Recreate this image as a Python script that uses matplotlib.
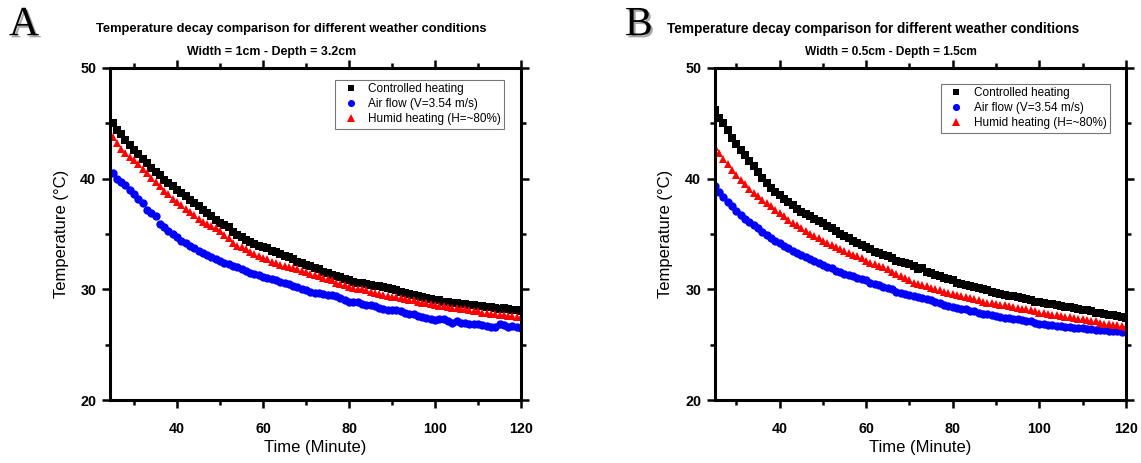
import numpy as np
import matplotlib
matplotlib.use("Agg")
import matplotlib.pyplot as plt
import matplotlib.patheffects as pe
from matplotlib.ticker import MultipleLocator

plt.rcParams['font.family'] = ['Liberation Sans', 'DejaVu Sans']

time_min = list(range(25, 121))

# Panel A (Width = 1cm - Depth = 3.2cm)
a_controlled = [45.0, 44.4, 44.0, 43.5, 43.0, 42.6,
                42.2, 41.8, 41.4, 41.0, 40.6, 40.3, 39.9, 39.6, 39.3, 39.0,
                38.7, 38.4, 38.1, 37.8, 37.5, 37.2, 36.9, 36.6, 36.3, 36.0,
                35.8, 35.6, 35.2, 34.9, 34.7, 34.5, 34.3, 34.1, 33.9, 33.8,
                33.7, 33.5, 33.4, 33.2, 33.0, 32.9, 32.7, 32.5, 32.4, 32.2,
                32.1, 31.9, 31.8, 31.6, 31.5, 31.3, 31.2, 31.1, 30.9, 30.8,
                30.7, 30.6, 30.6, 30.5, 30.4, 30.3, 30.3, 30.2, 30.1, 30.0,
                29.9, 29.8, 29.7, 29.6, 29.5, 29.4, 29.3, 29.2, 29.1, 29.0,
                29.0, 28.9, 28.9, 28.8, 28.8, 28.7, 28.7, 28.6, 28.6, 28.5,
                28.5, 28.4, 28.4, 28.3, 28.2, 28.3, 28.2, 28.1, 28.1, 28.0]
a_airflow = [40.5, 40.0, 39.7, 39.4, 39.0, 38.6,
             38.2, 37.8, 37.2, 36.9, 36.6, 35.9, 35.6, 35.3, 35.0, 34.7,
             34.4, 34.2, 33.9, 33.7, 33.5, 33.3, 33.1, 32.9, 32.7, 32.6,
             32.4, 32.3, 32.1, 32.0, 31.8, 31.7, 31.5, 31.4, 31.3, 31.1,
             31.0, 30.9, 30.8, 30.7, 30.6, 30.5, 30.3, 30.2, 30.0, 29.9,
             29.8, 29.7, 29.7, 29.6, 29.5, 29.5, 29.4, 29.2, 29.0, 28.9,
             28.9, 28.9, 28.7, 28.6, 28.6, 28.5, 28.3, 28.2, 28.1, 28.1,
             28.1, 28.0, 27.9, 27.8, 27.8, 27.6, 27.5, 27.4, 27.3, 27.2,
             27.3, 27.3, 27.1, 27.0, 27.1, 27.0, 27.0, 26.9, 26.9, 26.9,
             26.8, 26.7, 26.6, 26.6, 26.9, 26.8, 26.6, 26.7, 26.6, 26.5]
a_humid = [43.8, 43.2, 42.7, 42.3, 42.0, 41.7,
           41.3, 40.9, 40.5, 40.1, 39.7, 39.3, 38.9, 38.6, 38.2, 37.9,
           37.6, 37.3, 37.0, 36.7, 36.4, 36.1, 35.9, 35.7, 35.5, 35.3,
           34.9, 34.6, 34.2, 33.9, 33.8, 33.6, 33.4, 33.2, 33.0, 32.8,
           32.7, 32.5, 32.4, 32.2, 32.1, 32.0, 31.9, 31.8, 31.7, 31.6,
           31.4, 31.3, 31.2, 31.0, 30.9, 30.8, 30.6, 30.5, 30.4, 30.2,
           30.1, 30.0, 30.0, 29.9, 29.8, 29.7, 29.6, 29.5, 29.4, 29.3,
           29.3, 29.2, 29.1, 29.0, 29.0, 28.9, 28.8, 28.8, 28.7, 28.6,
           28.5, 28.5, 28.4, 28.3, 28.3, 28.2, 28.2, 28.1, 28.0, 28.0,
           27.9, 27.9, 27.8, 27.8, 27.7, 27.7, 27.6, 27.6, 27.5, 27.5]

# Panel B (Width = 0.5cm - Depth = 1.5cm)
b_controlled = [46.2, 45.5, 45.0, 44.4, 43.7, 43.1,
                42.6, 42.1, 41.6, 41.1, 40.6, 40.1, 39.6, 39.2, 38.8, 38.5,
                38.2, 37.9, 37.6, 37.3, 37.0, 36.8, 36.6, 36.4, 36.2, 36.0,
                35.7, 35.5, 35.3, 35.0, 34.8, 34.6, 34.4, 34.2, 34.0, 33.8,
                33.6, 33.4, 33.3, 33.1, 33.0, 32.8, 32.6, 32.5, 32.4, 32.3,
                32.1, 31.8, 31.9, 31.6, 31.5, 31.3, 31.2, 31.0, 30.9, 30.8,
                30.6, 30.5, 30.4, 30.3, 30.2, 30.1, 30.0, 29.9, 29.8, 29.7,
                29.6, 29.5, 29.4, 29.4, 29.3, 29.2, 29.1, 29.0, 28.9, 28.9,
                28.8, 28.7, 28.7, 28.6, 28.5, 28.4, 28.4, 28.3, 28.2, 28.1,
                28.1, 28.0, 27.9, 27.9, 27.8, 27.7, 27.7, 27.6, 27.5, 27.4]
b_airflow = [39.3, 38.8, 38.3, 37.9, 37.5, 37.1,
             36.7, 36.4, 36.1, 35.8, 35.5, 35.2, 34.9, 34.6, 34.4, 34.2,
             33.9, 33.7, 33.5, 33.3, 33.1, 32.9, 32.7, 32.6, 32.4, 32.2,
             32.0, 31.9, 31.7, 31.6, 31.4, 31.3, 31.2, 31.0, 30.9, 30.8,
             30.6, 30.5, 30.4, 30.2, 30.1, 30.0, 29.8, 29.7, 29.6, 29.5,
             29.4, 29.3, 29.2, 29.1, 29.0, 28.9, 28.8, 28.6, 28.5, 28.4,
             28.3, 28.2, 28.2, 28.0, 28.0, 27.9, 27.8, 27.8, 27.7, 27.6,
             27.5, 27.4, 27.4, 27.3, 27.3, 27.2, 27.1, 27.1, 27.0, 26.9,
             26.9, 26.8, 26.8, 26.7, 26.7, 26.6, 26.6, 26.5, 26.5, 26.5,
             26.4, 26.4, 26.3, 26.3, 26.3, 26.2, 26.2, 26.2, 26.1, 26.1]
b_humid = [42.9, 42.3, 41.8, 41.3, 40.8, 40.3,
           39.9, 39.5, 39.1, 38.7, 38.4, 38.1, 37.8, 37.5, 37.2, 36.9,
           36.6, 36.3, 36.0, 35.8, 35.5, 35.3, 35.0, 34.8, 34.6, 34.4,
           34.2, 34.0, 33.8, 33.6, 33.5, 33.3, 33.1, 33.0, 32.8, 32.6,
           32.4, 32.3, 32.1, 32.0, 31.8, 31.6, 31.4, 31.2, 31.0, 30.8,
           30.6, 30.5, 30.4, 30.3, 30.1, 30.0, 29.9, 29.8, 29.7, 29.6,
           29.5, 29.4, 29.3, 29.2, 29.1, 29.0, 28.9, 28.8, 28.8, 28.7,
           28.6, 28.6, 28.5, 28.4, 28.3, 28.2, 28.2, 28.1, 28.0, 27.9,
           27.9, 27.8, 27.7, 27.7, 27.6, 27.5, 27.5, 27.4, 27.3, 27.3,
           27.2, 27.1, 27.1, 27.0, 26.9, 26.9, 26.8, 26.8, 26.7, 26.6]

series_labels = ["Controlled heating", "Air flow (V=3.54 m/s)", "Humid heating (H=~80%)"]
main_title = "Temperature decay comparison for different weather conditions"
subtitles = ["Width = 1cm - Depth = 3.2cm", "Width = 0.5cm - Depth = 1.5cm"]
panel_letters = ["A", "B"]
x_label = "Time (Minute)"
y_label = "Temperature (°C)"
xlims = [(24.4, 120), (25.1, 120)]

W, H = 1141, 463
fig = plt.figure(figsize=(W / 100, H / 100), dpi=100)

panels = [
    dict(left=110, data=(a_controlled, a_airflow, a_humid), legend_anchor=(0.959, 0.965),
         title_x=291, sub_x=272, letter_x=9, ylabel_x=69, title_fs=9.3, sub_fs=8.9),
    dict(left=715, data=(b_controlled, b_airflow, b_humid), legend_anchor=(0.961, 0.953),
         title_x=873, sub_x=891, letter_x=625, ylabel_x=673, title_fs=9.8, sub_fs=8.6),
]

ax_w = 411
ax_top, ax_bot = 68, 400

for i, p in enumerate(panels):
    ax = fig.add_axes([p['left'] / W, 1 - ax_bot / H, ax_w / W, (ax_bot - ax_top) / H])
    ctrl, air, hum = p['data']
    ax.plot(time_min, ctrl, linestyle='none', marker='s', ms=5.4, color='black',
            mec='black', mew=0, label=series_labels[0])
    ax.plot(time_min, air, linestyle='none', marker='o', ms=6.0, color='#0000ff',
            mec='#0000ff', mew=0, label=series_labels[1])
    ax.plot(time_min, hum, linestyle='none', marker='^', ms=6.4, color='#ff0000',
            mec='#ff0000', mew=0, label=series_labels[2])

    ax.set_xlim(*xlims[i])
    ax.set_ylim(20, 50)
    ax.xaxis.set_major_locator(MultipleLocator(20))
    ax.xaxis.set_minor_locator(MultipleLocator(10))
    ax.yaxis.set_major_locator(MultipleLocator(10))
    ax.yaxis.set_minor_locator(MultipleLocator(5))
    for s in ax.spines.values():
        s.set_linewidth(2.2)
    ax.tick_params(which='both', direction='out', top=True, right=True,
                   width=1.8, labelsize=10.3)
    ax.tick_params(which='major', length=6)
    ax.tick_params(which='minor', length=3.5)
    for lab in ax.get_xticklabels() + ax.get_yticklabels():
        lab.set_fontweight('bold')
    ax.tick_params(axis='x', pad=10)
    ax.tick_params(axis='y', pad=4)

    ax.set_xlabel(x_label, fontsize=12, labelpad=3)
    ax.set_ylabel(y_label, fontsize=12)
    ax.yaxis.set_label_coords((p['ylabel_x'] - p['left']) / ax_w, 0.5)

    leg = ax.legend(loc='upper right', bbox_to_anchor=p['legend_anchor'], fontsize=8.5,
                    frameon=True, fancybox=False, edgecolor='#555555',
                    handlelength=2.0, handletextpad=0.45, labelspacing=0.25,
                    borderpad=0.3, borderaxespad=0, markerscale=0.85)
    leg.get_frame().set_linewidth(0.8)

    fig.text(p['title_x'] / W, 1 - 29 / H, main_title, ha='center', va='center',
             fontsize=p['title_fs'], fontweight='bold')
    fig.text(p['sub_x'] / W, 1 - 52 / H, subtitles[i], ha='center', va='center',
             fontsize=p['sub_fs'], fontweight='bold')
    fig.text(p['letter_x'] / W, 1 - 25 / H, panel_letters[i], ha='left', va='center',
             fontsize=30, family=['Liberation Serif', 'DejaVu Serif'],
             path_effects=[pe.SimplePatchShadow(offset=(1.5, -1.5), alpha=0.35),
                           pe.Normal()])

fig.savefig("out.png", dpi=100)
